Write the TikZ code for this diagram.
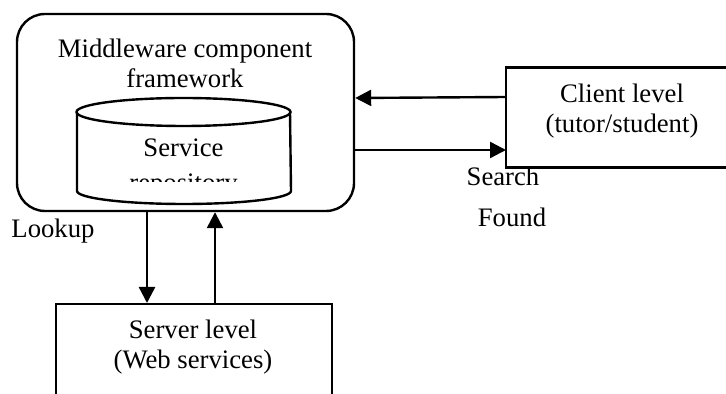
\documentclass[tikz,border=0pt]{standalone}
\usepackage{fontspec}
\setmainfont{Liberation Serif}
\usetikzlibrary{arrows.meta}
\tikzset{
  lbl/.style={inner sep=0pt},
  levelbox/.style={draw, line width=1.2pt, rectangle, inner sep=0pt},
  arr/.style={line width=1.2pt, -{Triangle[length=8pt,width=8pt]}}
}
\begin{document}
\begin{tikzpicture}[x=0.5pt,y=-0.5pt,font=\fontsize{13.35}{15}\selectfont]
    \useasboundingbox (0,0) rectangle (726,394);
    \clip (0,0) rectangle (726,394);
    % Draw middleware box
    \node[draw, line width=1.2pt, rounded corners=14pt, minimum width=168.5pt,
          minimum height=98.5pt] (mw) at (185.5,112.5) {};
    \node[lbl, anchor=base] (mwtop) at (185,58) {Middleware component};
    \node[lbl, anchor=base] (mwbot) at (185,88) {framework};
    % Draw repository cylinder
    \draw[line width=1.2pt] (183.5,112) ellipse [x radius=53.5pt, y radius=7pt];
    \draw[line width=1.2pt] (77,112) -- (77,191)
          arc [start angle=180, end angle=360, x radius=53.5pt, y radius=6.5pt]
          -- (290,112);
    \node[lbl, anchor=base] (svc) at (183.5,157) {Service};
    \begin{scope}
      \clip (77,160) rectangle (290,181.5);
      \node[lbl, anchor=base] (repo) at (183.5,191.5) {repository};
    \end{scope}
    % Draw client and server boxes (both run off the page)
    \node[lbl, minimum width=130pt, minimum height=49.5pt, anchor=west]
          (client) at (506,117.5) {};
    \draw[line width=1.2pt] (client.north east) -- (client.north west)
          -- (client.south west) -- (client.south east);
    \node[lbl, anchor=base] (clitop) at (622,103) {Client level};
    \node[lbl, anchor=base] (clibot) at (622,133) {(tutor/student)};
    \node[levelbox, minimum width=138pt, minimum height=55pt, anchor=north west]
          (srv) at (55,303) {};
    \node[lbl, anchor=base] (srvtop) at (193,338) {Server level};
    \node[lbl, anchor=base] (srvbot) at (193,368) {(Web services)};
    % Draw arrows
    \draw[arr] (client.west |- 0,97) -- (mw.east |- 0,98);
    \draw[arr] (mw.east |- 0,150) -- (client.west |- 0,150);
    \draw[arr] (mw.south -| 147,0) -- (srv.north -| 147,0);
    \draw[arr] (srv.north -| 215,0) -- (mw.south -| 215,0);
    % Draw labels
    \node[lbl, anchor=base] (search) at (503,186) {Search};
    \node[lbl, anchor=base] (found) at (512,227) {Found};
    \node[lbl, anchor=base] (lookup) at (53,238) {Lookup};
\end{tikzpicture}
\end{document}
